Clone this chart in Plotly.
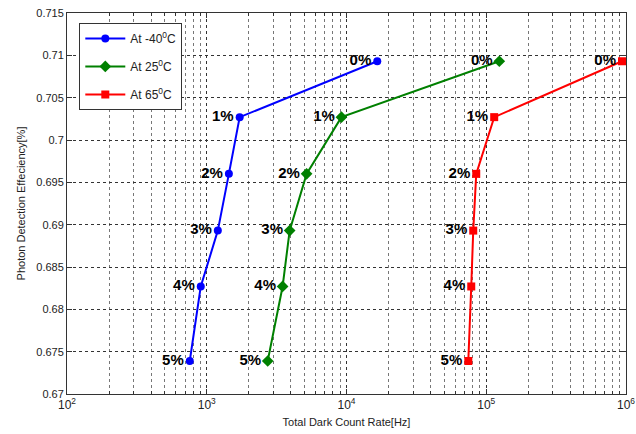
import plotly.graph_objects as go

labels = ["<b>0%</b>", "<b>1%</b>", "<b>2%</b>", "<b>3%</b>", "<b>4%</b>", "<b>5%</b>"]
pde = [0.7093, 0.7027, 0.6960, 0.6893, 0.6827, 0.6739]
dcr_m40 = [16600, 1720, 1440, 1200, 906, 756]
dcr_25 = [124000, 9200, 5180, 3920, 3490, 2730]
dcr_65 = [936000, 114000, 84800, 80700, 78100, 74400]

series = [
    ("At -40<sup>0</sup>C", dcr_m40, "#0000ff", "circle", 8),
    ("At 25<sup>0</sup>C", dcr_25, "#008000", "diamond", 9),
    ("At 65<sup>0</sup>C", dcr_65, "#ff0000", "square", 8),
]

xtickvals = [1e2, 1e3, 1e4, 1e5, 1e6]
xticktext = ["10<sup>2</sup>", "10<sup>3</sup>", "10<sup>4</sup>", "10<sup>5</sup>", "10<sup>6</sup>"]
xminorvals = [m * d for d in [1e2, 1e3, 1e4, 1e5] for m in [2, 3, 4, 5, 6, 7, 8, 9]]
ytickvals = [0.67, 0.675, 0.68, 0.685, 0.69, 0.695, 0.7, 0.705, 0.71, 0.715]
yticktext = ["0.67", "0.675", "0.68", "0.685", "0.69", "0.695", "0.7", "0.705", "0.71", "0.715"]

fig = go.Figure()
for i, (name, xs, color, sym, size) in enumerate(series):
    fig.add_trace(go.Scatter(
        x=xs, y=pde, name=name, mode="lines+markers+text", legendgroup=f"g{i}",
        text=labels, textposition="middle left",
        textfont=dict(family="Liberation Sans, Arial", size=15, color="black"),
        line=dict(color=color, width=2),
        marker=dict(color=color, symbol=sym, size=size),
    ))

fig.update_layout(
    width=636, height=434,
    margin=dict(l=67, r=10, t=13, b=40, autoexpand=False),
    paper_bgcolor="white", plot_bgcolor="white",
    font=dict(family="Liberation Sans, Arial", size=11, color="#222"),
    showlegend=True,
    legend=dict(x=0.022, y=0.974, xanchor="left", yanchor="top",
                bgcolor="white", bordercolor="#333", borderwidth=1,
                font=dict(size=12, color="#222"), tracegroupgap=9, itemwidth=40),
)
fig.update_xaxes(
    type="log", range=[2, 6], tickmode="array", tickvals=xtickvals, ticktext=xticktext,
    automargin=False, tickfont=dict(size=12),
    showline=True, linecolor="#333", linewidth=1, mirror="ticks",
    ticks="inside", ticklen=5, tickcolor="#333",
    showgrid=True, gridcolor="#333", griddash="dot", gridwidth=1,
    minor=dict(tickmode="array", tickvals=xminorvals, ticks="inside", ticklen=3,
               tickcolor="#333", showgrid=True,
               gridcolor="#777", griddash="dot", gridwidth=1),
    title=dict(text="Total Dark Count Rate[Hz]", font=dict(size=11), standoff=6),
    zeroline=False,
)
fig.update_yaxes(
    range=[0.67, 0.715], tickvals=ytickvals, ticktext=yticktext,
    automargin=False, tickfont=dict(size=11),
    showline=True, linecolor="#333", linewidth=1, mirror="ticks",
    ticks="inside", ticklen=5, tickcolor="#333",
    showgrid=True, gridcolor="#333", griddash="dot", gridwidth=1,
    title=dict(text="Photon Detection Effeciency[%]", font=dict(size=11), standoff=8),
    zeroline=False,
)
fig.write_html("out.html", config={"displayModeBar": False},
               post_script="document.body.style.margin='0';")
